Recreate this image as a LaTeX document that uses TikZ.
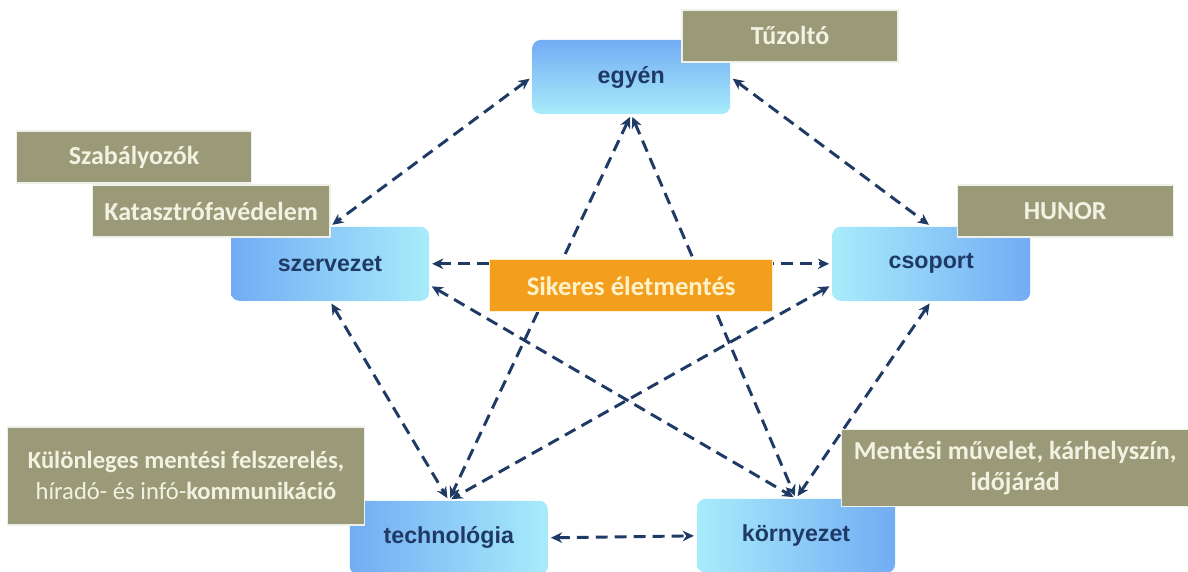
\documentclass[tikz,border=0pt]{standalone}
\usepackage{fontspec}
\setmainfont{Carlito}
\newfontfamily\entityfont{Liberation Sans}
\usetikzlibrary{arrows.meta}
\definecolor{navy}{HTML}{1F3A64}
\definecolor{olivebox}{HTML}{9A9A78}
\definecolor{olivetext}{HTML}{F2F2E2}
\definecolor{orangebox}{HTML}{F49E1E}
\definecolor{orangetext}{HTML}{FFF1C8}
\definecolor{bluedark}{HTML}{72ACF4}
\definecolor{bluelight}{HTML}{A8ECFB}
\tikzset{
  entity/.style={rounded corners=6pt, minimum width=4.95cm, minimum height=1.85cm,
    inner sep=0pt, text=navy, font=\entityfont\bfseries\fontsize{16.5}{19}\selectfont},
  factor/.style={fill=olivebox, draw=white!85!olivebox, line width=1pt, text=olivetext,
    inner sep=0pt, minimum height=1.3cm, align=center,
    font=\bfseries\fontsize{18.5}{22}\selectfont},
  goal/.style={fill=orangebox, draw=orangetext, line width=0.8pt, text=orangetext,
    inner sep=0pt, minimum width=7.08cm, minimum height=1.3cm,
    font=\bfseries\fontsize{19}{22}\selectfont},
  link/.style={navy, line width=2.1pt, dash pattern=on 8.5pt off 5pt,
    {Stealth[length=8pt,width=7.5pt]}-{Stealth[length=8pt,width=7.5pt]},
    shorten <=2pt, shorten >=2pt}
}
\begin{document}
\begin{tikzpicture}
      \useasboundingbox (0,0) rectangle (29.7,14.275);
      \draw
        (15.78,12.35) node[entity, top color=bluedark, bottom color=bluelight] (egyen){egyén}
        (8.25,7.68) node[entity, left color=bluedark, right color=bluelight] (szervezet){szervezet}
        (23.28,7.68) node[entity, left color=bluelight, right color=bluedark] (csoport){csoport}
        (11.22,0.83) node[entity, left color=bluedark, right color=bluelight] (technologia){technológia}
        (19.9,0.88) node[entity, left color=bluelight, right color=bluedark] (kornyezet){környezet};
      \begin{scope}[link]
        \draw (egyen.west) to (szervezet.north);
        \draw (egyen.east) to (csoport.north);
        \draw (egyen.south) to (technologia.north);
        \draw (egyen.south) to (kornyezet.north);
        \draw (szervezet.east) to (csoport.west);
        \draw (szervezet.-12) to (kornyezet.north);
        \draw (csoport.192) to (technologia.north);
        \draw (szervezet.south) to (technologia.north);
        \draw (csoport.south) to (kornyezet.north);
        \draw (technologia.east) to (kornyezet.west);
      \end{scope}
      \draw
        (15.78,7.13) node[goal] (siker){Sikeres életmentés}
        (19.75,13.38) node[factor, minimum width=5.4cm] (tuzolto){Tűzoltó}
        (3.35,10.35) node[factor, minimum width=5.88cm] (szabaly){Szabályozók}
        (5.28,9.0) node[factor, minimum width=5.93cm] (katasztrofa){Katasztrófavédelem}
        (26.63,9.0) node[factor, minimum width=5.4cm] (hunor){HUNOR}
        (4.65,2.38) node[factor, minimum width=8.93cm, minimum height=2.45cm,
          font=\bfseries\fontsize{17.5}{22}\selectfont] (eszkoz)
          {Különleges mentési felszerelés,\\ \mdseries híradó- és infó-\bfseries kommunikáció}
        (25.38,2.58) node[factor, minimum width=8.7cm, minimum height=1.93cm] (helyszin)
          {Mentési művelet, kárhelyszín,\\ időjárád};
    \end{tikzpicture}
\end{document}
